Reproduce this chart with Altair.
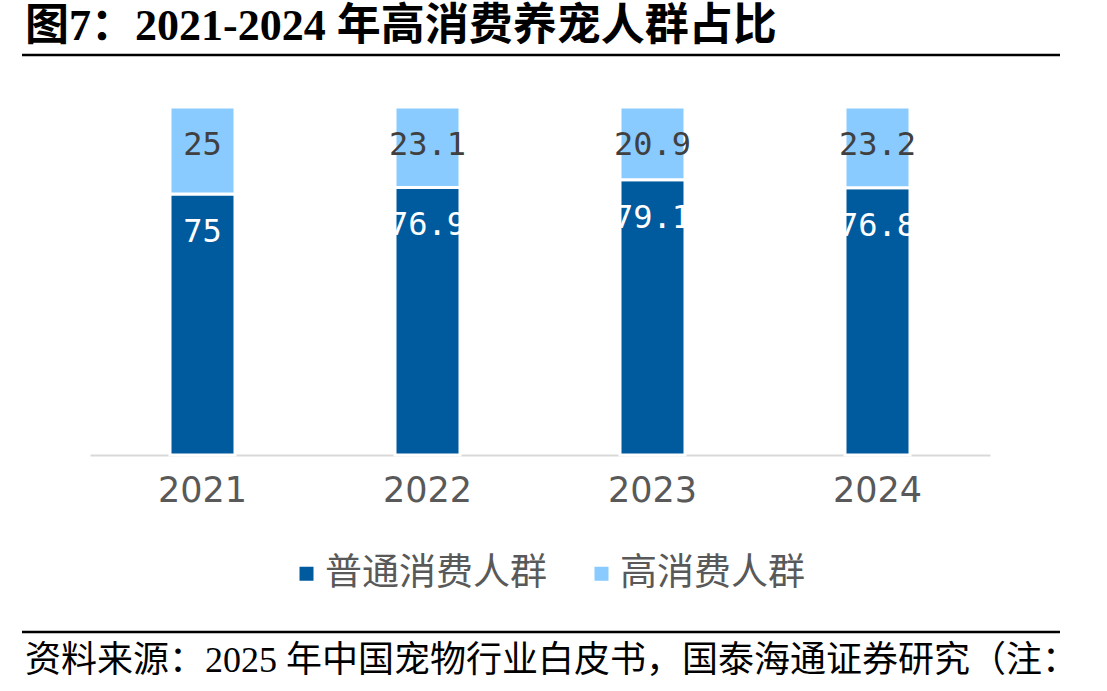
import altair as alt
import pandas as pd

years = ["2021", "2022", "2023", "2024"]
normal = [75, 76.9, 79.1, 76.8]
high = [25, 23.1, 20.9, 23.2]
groups = ["普通消费人群", "高消费人群"]
colors = ["#005a9e", "#89caff"]
label_colors = ["#ffffff", "#404040"]
title_text = "图7：2021-2024 年高消费养宠人群占比"
source_text = "资料来源：2025 年中国宠物行业白皮书，国泰海通证券研究（注："

rows = []
for i, y in enumerate(years):
    rows.append({"year": y, "group": groups[0], "value": normal[i], "ord": 0, "tc": label_colors[0], "lbl": f"{normal[i]:g}"})
    rows.append({"year": y, "group": groups[1], "value": high[i], "ord": 1, "tc": label_colors[1], "lbl": f"{high[i]:g}"})
df = pd.DataFrame(rows)

base = alt.Chart(df).transform_stack(
    stack="value", groupby=["year"], as_=["y0", "y1"], sort=[alt.SortField("ord")]
)

xenc = alt.X("year:N", scale=alt.Scale(paddingInner=0, paddingOuter=0),
             axis=alt.Axis(title=None, labelAngle=0, ticks=False, labelFontSize=35,
                           labelFont="DejaVu Sans", labelColor="#595959", labelPadding=18,
                           domainColor="#d9d9d9", domainWidth=2))
yscale = alt.Scale(domain=[0, 100])

bars = base.mark_bar(size=65, stroke="white", strokeWidth=3).encode(
    x=xenc,
    y=alt.Y("y0:Q", scale=yscale, axis=None),
    y2="y1:Q",
    color=alt.Color("group:N", scale=alt.Scale(domain=groups, range=colors),
                    legend=alt.Legend(orient="none", legendX=198, legendY=448, direction="horizontal",
                                      title=None, symbolType="square", symbolSize=196,
                                      symbolStrokeWidth=0, labelFontSize=37, labelLimit=500,
                                      labelFont="Noto Sans CJK SC", labelColor="#595959",
                                      columnPadding=36, labelOffset=0)),
)

labels = base.mark_text(font="DejaVu Sans Mono", fontSize=32, baseline="middle", dy=38).encode(
    x=alt.X("year:N"),
    y=alt.Y("y1:Q", scale=yscale),
    text="lbl:N",
    color=alt.Color("tc:N", scale=None),
)

title = alt.Chart(pd.DataFrame({"t": [title_text]})).mark_text(
    align="left", baseline="middle", font="Liberation Serif, Noto Sans CJK SC",
    fontWeight="bold", fontSize=44, color="black"
).encode(text="t:N", x=alt.value(-65), y=alt.value(-80))

source = alt.Chart(pd.DataFrame({"t": [source_text]})).mark_text(
    align="left", baseline="middle", font="Liberation Serif, Noto Sans CJK SC",
    fontSize=36, color="black"
).encode(text="t:N", x=alt.value(-65), y=alt.value(554))

rules_df = pd.DataFrame({"ry": [-52, 525]})
rules = alt.Chart(rules_df).mark_rule(color="black", strokeWidth=2.5).encode(
    x=alt.value(-68), x2=alt.value(970), y=alt.Y("ry:Q", scale=None)
)

chart = alt.layer(bars, labels, title, source, rules).properties(
    width=900, height=348,
    padding={"left": 90, "top": 107, "right": 117, "bottom": 236},
    autosize=alt.AutoSizeParams(type="none"),
    background="white",
).configure_view(stroke=None)

chart.save("out.html", embed_options={"renderer": "svg", "actions": False})
